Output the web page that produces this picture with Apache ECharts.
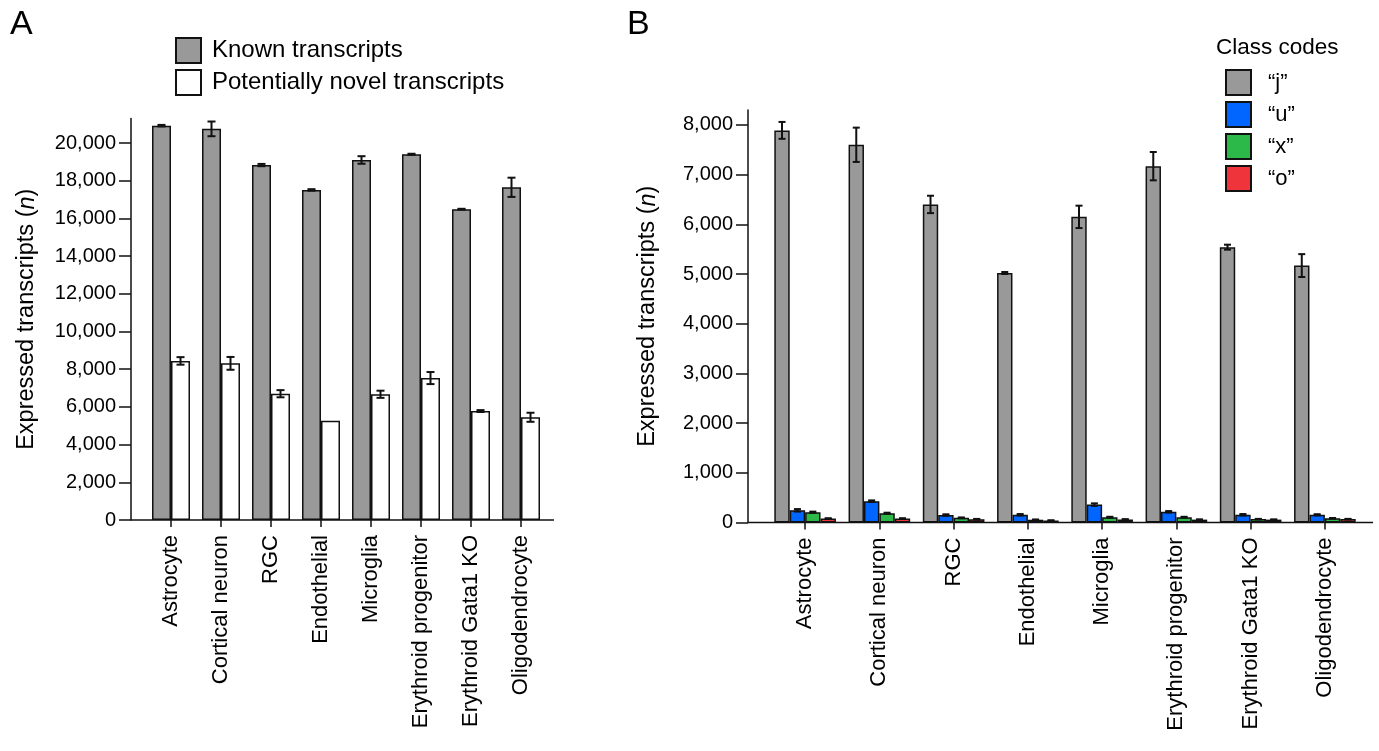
<!DOCTYPE html>
<html>
<head>
<meta charset="utf-8">
<script src="https://cdn.jsdelivr.net/npm/echarts@6.0.0/dist/echarts.min.js"></script>
<style>
  html, body { margin: 0; padding: 0; background: #fff; }
  #chart { width: 1379px; height: 751px; }
</style>
</head>
<body>
<div id="chart"></div>
<script>
// ---------------- Data ----------------
const categories = ['Astrocyte', 'Cortical neuron', 'RGC', 'Endothelial', 'Microglia',
  'Erythroid progenitor', 'Erythroid Gata1 KO', 'Oligodendrocyte'];

// Panel A
const knownMean = [20920, 20750, 18830, 17510, 19100, 19400, 16490, 17650];
const knownErr  = [40, 390, 60, 40, 200, 30, 20, 510];
const novelMean = [8440, 8310, 6700, 5270, 6670, 7530, 5780, 5450];
const novelErr  = [200, 340, 190, 0, 190, 320, 50, 240];
const yTicksA = [0, 2000, 4000, 6000, 8000, 10000, 12000, 14000, 16000, 18000, 20000];

// Panel B
const classNames = ['\u201Cj\u201D', '\u201Cu\u201D', '\u201Cx\u201D', '\u201Co\u201D'];
const jMean = [7890, 7600, 6400, 5020, 6150, 7170, 5540, 5170];
const jErr  = [170, 345, 175, 20, 225, 285, 50, 230];
const uMean = [245, 430, 150, 155, 360, 215, 155, 155];
const uErr  = [25, 15, 15, 15, 25, 15, 15, 12];
const xMean = [207, 187, 94, 56, 107, 107, 68, 85];
const xErr  = [12, 10, 8, 5, 8, 8, 5, 6];
const oMean = [80, 80, 67, 40, 62, 58, 58, 68];
const oErr  = [6, 6, 5, 4, 5, 5, 4, 5];
const yTicksB = [0, 1000, 2000, 3000, 4000, 5000, 6000, 7000, 8000];

// ---------------- Styles / layout ----------------
const FONT = 'Liberation Sans, Arial, Helvetica, sans-serif';
const INK = '#111';
const gapA = 0.24, gapB = 0.17;
const layoutA = { left: 146, width: 400, top: 118.5, bottom: 231, yOffset: 15, extRight: 8, max: 21300 };
const layoutB = { left: 768, width: 594, top: 110, bottom: 228.5, yOffset: 20, extRight: 11, max: 8300 };
const fmt = v => Number(v).toLocaleString('en-US');

function errorSeries(name, gi, means, errs, k, n, gapFrac, capW) {
  return {
    type: 'custom', name: name, xAxisIndex: gi, yAxisIndex: gi, z: 5,
    silent: true,
    data: means.map((m, i) => [i, m, errs[i]]),
    renderItem: function (params, api) {
      const i = api.value(0), m = api.value(1), e = api.value(2);
      if (!e) return null;
      const c = api.coord([i, m]);
      const bw = api.size([1, 0])[0];
      const gw = bw * (1 - gapFrac);
      const w = gw / n;
      const x = c[0] - gw / 2 + w * (k + 0.5);
      const yt = api.coord([i, m + e])[1];
      const yb = api.coord([i, Math.max(0, m - e)])[1];
      const st = { stroke: INK, lineWidth: 2 };
      return { type: 'group', children: [
        { type: 'line', shape: { x1: x, y1: yt, x2: x, y2: yb }, style: st },
        { type: 'line', shape: { x1: x - capW / 2, y1: yt, x2: x + capW / 2, y2: yt }, style: st },
        { type: 'line', shape: { x1: x - capW / 2, y1: yb, x2: x + capW / 2, y2: yb }, style: st }
      ]};
    }
  };
}

function barSeries(name, gi, data, color, gap) {
  return {
    type: 'bar', name: name, xAxisIndex: gi, yAxisIndex: gi,
    data: data, barGap: '0%', barCategoryGap: (gap * 100) + '%',
    itemStyle: { color: color, borderColor: INK, borderWidth: 1.5 },
    emphasis: { disabled: true }
  };
}

function xAxisDef(gi) {
  return {
    type: 'category', gridIndex: gi, data: categories,
    axisLine: { show: false },
    axisTick: { show: true, alignWithLabel: true, length: 7, lineStyle: { color: INK, width: 1.5 } },
    axisLabel: { rotate: 90, fontSize: 22, color: '#000', fontFamily: FONT, margin: 15, interval: 0 },
    splitLine: { show: false }
  };
}

function yAxisDef(gi, L, ticks, nameGap) {
  return {
    type: 'value', gridIndex: gi, min: 0, max: L.max, offset: L.yOffset,
    axisLine: { show: true, lineStyle: { color: INK, width: 1.5 } },
    axisTick: { show: true, length: 12, customValues: ticks, lineStyle: { color: INK, width: 1.5 } },
    axisLabel: { customValues: ticks, fontSize: 20, color: '#000', fontFamily: FONT, margin: 15, formatter: fmt },
    splitLine: { show: false },
    name: '{a|Expressed transcripts (}{i|n}{a|)}',
    nameLocation: 'middle', nameRotate: 90, nameGap: nameGap,
    nameTextStyle: {
      rich: {
        a: { fontSize: 23.5, color: '#000', fontFamily: FONT },
        i: { fontSize: 23.5, color: '#000', fontFamily: FONT, fontStyle: 'italic' }
      }
    }
  };
}

const chart = echarts.init(document.getElementById('chart'), null, { renderer: 'canvas' });

const option = {
  animation: false,
  backgroundColor: '#fff',
  title: [
    { text: 'A', left: 5, top: 3, textStyle: { fontSize: 34, fontWeight: 'normal', color: '#000', fontFamily: FONT } },
    { text: 'B', left: 622, top: 3, textStyle: { fontSize: 34, fontWeight: 'normal', color: '#000', fontFamily: FONT } },
    { text: 'Class codes', left: 1211, top: 31, textStyle: { fontSize: 22.5, fontWeight: 'normal', color: '#000', fontFamily: FONT } }
  ],
  legend: [
    {
      data: ['Known transcripts', 'Potentially novel transcripts'],
      orient: 'vertical', left: 170, top: 32, itemWidth: 25, itemHeight: 25, itemGap: 5,
      icon: 'rect', selectedMode: false,
      textStyle: { fontSize: 24, color: '#000', fontFamily: FONT, padding: [0, 0, 0, 6] }
    },
    {
      data: classNames,
      orient: 'vertical', left: 1220, top: 64, itemWidth: 25, itemHeight: 25, itemGap: 5,
      icon: 'rect', selectedMode: false,
      textStyle: { fontSize: 22, color: '#000', fontFamily: FONT, padding: [0, 0, 0, 12] }
    }
  ],
  grid: [
    { left: layoutA.left, width: layoutA.width, top: layoutA.top, bottom: layoutA.bottom, containLabel: false },
    { left: layoutB.left, width: layoutB.width, top: layoutB.top, bottom: layoutB.bottom, containLabel: false }
  ],
  xAxis: [xAxisDef(0), xAxisDef(1)],
  yAxis: [yAxisDef(0, layoutA, yTicksA, 92), yAxisDef(1, layoutB, yTicksB, 88)],
  series: [
    barSeries('Known transcripts', 0, knownMean, '#999999', gapA),
    barSeries('Potentially novel transcripts', 0, novelMean, '#ffffff', gapA),
    errorSeries('errKnown', 0, knownMean, knownErr, 0, 2, gapA, 8),
    errorSeries('errNovel', 0, novelMean, novelErr, 1, 2, gapA, 8),

    barSeries(classNames[0], 1, jMean, '#999999', gapB),
    barSeries(classNames[1], 1, uMean, '#0066ff', gapB),
    barSeries(classNames[2], 1, xMean, '#2db84a', gapB),
    barSeries(classNames[3], 1, oMean, '#f0343c', gapB),
    errorSeries('errJ', 1, jMean, jErr, 0, 4, gapB, 7),
    errorSeries('errU', 1, uMean, uErr, 1, 4, gapB, 7),
    errorSeries('errX', 1, xMean, xErr, 2, 4, gapB, 7),
    errorSeries('errO', 1, oMean, oErr, 3, 4, gapB, 7)
  ]
};
chart.setOption(option);

// x-axis baselines spanning from the y-axis line to a little past the last category
function baseline(gi, L) {
  const p = chart.convertToPixel({ xAxisIndex: gi, yAxisIndex: gi }, [0, 0]);
  const y = p[1];
  const x1 = L.left - L.yOffset;
  const x2 = L.left + L.width + L.extRight;
  return { type: 'line', z: 10, shape: { x1: x1, y1: y, x2: x2, y2: y }, style: { stroke: INK, lineWidth: 1.5 } };
}
chart.setOption({ graphic: [baseline(0, layoutA), baseline(1, layoutB)] });
</script>
</body>
</html>
